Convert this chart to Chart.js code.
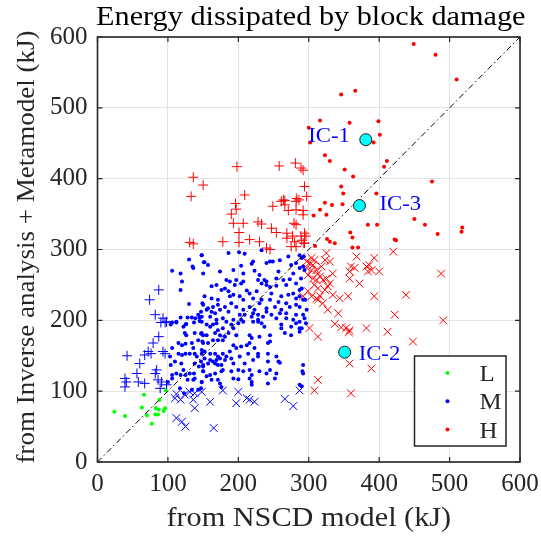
<!DOCTYPE html>
<html>
<head>
<meta charset="utf-8">
<script src="https://cdn.jsdelivr.net/npm/chart.js@4.4.0/dist/chart.umd.min.js"></script>
<style>
  html, body { margin: 0; padding: 0; background: #fff; }
  canvas { display: block; }
</style>
</head>
<body>
<canvas id="chart" width="541" height="537"></canvas>
<script>
// axis ticks (both axes)
const axisTicks = [0, 100, 200, 300, 400, 500, 600];

// L class (green dots)
const lowDots = [
  [66, 95], [88, 88], [24, 71], [39, 65], [63, 77], [83, 76], [87, 74], [96, 76], [94, 72],
  [70, 66], [82, 67], [86, 67], [77, 54], [97, 101]
];

// M class (blue dots)
const medDots = [
  [104, 194], [112, 197], [122, 191], [125, 194], [137, 197], [145, 199], [124, 182], [126, 179], [138, 182],
  [147, 181], [143, 172], [150, 179], [149, 170], [106, 161], [115, 168], [120, 165], [125, 167], [134, 168],
  [136, 161], [138, 153], [131, 153], [125, 153], [120, 151], [115, 153], [103, 149], [148, 153], [141, 149],
  [110, 142], [119, 139], [104, 137], [122, 130], [138, 139], [147, 142], [144, 135], [150, 135], [137, 125],
  [131, 125], [125, 123], [112, 125], [118, 123], [106, 123], [100, 113], [106, 118], [150, 128], [128, 116],
  [136, 116], [138, 118], [148, 113], [147, 104], [117, 104], [123, 97], [134, 102], [143, 102],
  [148, 198], [155, 194], [160, 191], [164, 194], [169, 196], [171, 186], [178, 189], [183, 198], [190, 194],
  [193, 189], [200, 196], [207, 198], [221, 198], [228, 198], [233, 196], [237, 191], [261, 194], [275, 191],
  [282, 196], [287, 189], [296, 196],
  [148, 182], [155, 179], [167, 182], [174, 179], [181, 177], [186, 182], [197, 179], [216, 179], [219, 175],
  [230, 177], [245, 179], [261, 189], [266, 182], [275, 179], [287, 184],
  [150, 168], [157, 168], [164, 172], [171, 172], [178, 172], [193, 165], [204, 163], [212, 165], [216, 168],
  [223, 161], [242, 168], [245, 170],
  [148, 158], [152, 156], [160, 153], [167, 153], [171, 149], [178, 153], [188, 156], [197, 161], [214, 153],
  [228, 153], [242, 153], [254, 149], [257, 142],
  [152, 146], [160, 144], [164, 142], [169, 144], [174, 146], [181, 144], [183, 149], [190, 146], [202, 149],
  [221, 144], [228, 149],
  [150, 137], [157, 139], [167, 139], [171, 137], [176, 137], [193, 139], [209, 139], [242, 142], [259, 140],
  [292, 137],
  [150, 128], [160, 123], [167, 125], [176, 128], [178, 130], [190, 128], [200, 130], [207, 128], [216, 130],
  [219, 123], [230, 128], [240, 125], [245, 130], [254, 125], [292, 125],
  [155, 121], [162, 116], [171, 116], [174, 111], [193, 118], [200, 117], [216, 118], [219, 113], [219, 109],
  [242, 111], [252, 118], [287, 109], [148, 113], [176, 106],
  [130, 286], [135, 276], [136, 274], [106, 270], [118, 266], [120, 255], [118, 243], [130, 223], [148, 292],
  [151, 282], [149, 224], [147, 212], [143, 208], [145, 204], [118, 204], [128, 204], [134, 204], [139, 203],
  [112, 198], [126, 195], [106, 197],
  [148, 292], [152, 282], [157, 278], [186, 295], [201, 296], [209, 294], [233, 299], [245, 283], [240, 281],
  [249, 283], [259, 285], [271, 290], [287, 292], [290, 288], [282, 281], [204, 277], [221, 283], [219, 280],
  [275, 278],
  [150, 266], [174, 269], [193, 271], [207, 266], [223, 270], [230, 264], [237, 257], [240, 255], [254, 259],
  [257, 269], [278, 266], [287, 274], [294, 271],
  [183, 257], [188, 255], [197, 257], [195, 250], [204, 252], [207, 255], [228, 257], [233, 252], [240, 250],
  [245, 247], [254, 249], [264, 257], [273, 258], [268, 250], [282, 252], [289, 259],
  [162, 248], [169, 250], [176, 243], [181, 245], [186, 241], [193, 236], [202, 234], [212, 242], [216, 238],
  [226, 241], [247, 238], [261, 234], [271, 236], [278, 238], [287, 243], [287, 234],
  [152, 234], [162, 231], [171, 229], [188, 234], [207, 229], [221, 231], [233, 229], [245, 229], [257, 226],
  [268, 224], [282, 231], [292, 229],
  [150, 222], [157, 217], [164, 219], [171, 222], [181, 219], [190, 224], [197, 219], [207, 215], [216, 219],
  [223, 215], [230, 224], [240, 217], [252, 219], [261, 215], [273, 219], [282, 222], [287, 219],
  [155, 215], [162, 212], [167, 210], [174, 215], [186, 212], [202, 208], [209, 208], [221, 210], [228, 208],
  [240, 212], [247, 208], [259, 210], [268, 210], [282, 208], [292, 208],
  [148, 205], [160, 205], [169, 201], [178, 203], [193, 201], [204, 201], [219, 205], [228, 201], [235, 205],
  [254, 203], [268, 203], [278, 201], [287, 198], [294, 203],
  [290, 189], [291, 128], [290, 107], [293, 290], [292, 276], [290, 245], [295, 229], [297, 215]
];

// M class, over-predicted (blue +)
const medPlus = [
  [42, 150], [87, 177], [90, 197], [96, 197], [79, 168], [72, 156], [76, 153], [67, 151], [93, 156],
  [96, 153], [60, 139], [56, 125], [84, 130], [82, 125], [39, 118], [41, 113], [39, 106], [58, 113],
  [67, 111], [86, 116], [91, 113], [89, 104], [98, 109], [87, 243], [74, 229], [82, 208], [93, 203], [98, 198]
];

// M class, under-predicted (blue x)
const medCross = [
  [112, 96], [118, 88], [124, 95], [131, 99], [138, 97], [136, 88], [138, 76], [148, 99], [110, 90],
  [112, 62], [120, 57], [125, 50], [160, 85], [178, 101], [197, 83], [200, 99], [212, 90], [216, 88],
  [223, 85], [266, 89], [278, 79], [287, 101], [165, 48]
];

// H class (red dots)
const highDots = [
  [449, 590], [480, 575], [510, 540], [346, 519], [366, 524], [316, 482], [358, 479], [399, 481], [300, 472],
  [401, 462], [392, 451], [302, 451], [323, 433], [330, 425], [411, 425], [407, 417], [351, 413], [363, 403],
  [475, 396], [346, 389], [349, 379], [396, 379], [323, 366], [333, 363], [348, 364], [316, 356], [307, 348],
  [325, 349], [384, 335], [397, 335], [359, 324], [362, 317], [326, 315], [330, 311], [337, 309], [309, 305],
  [362, 303], [370, 303], [422, 314], [424, 313], [450, 343], [465, 335], [483, 322], [518, 331], [517, 325]
];

// H class, under-predicted (red +)
const highPlus = [
  [198, 417], [258, 418], [281, 422], [289, 415], [292, 412], [136, 402], [150, 391], [133, 375], [196, 365],
  [209, 377], [264, 370], [266, 369], [283, 372], [286, 370], [294, 389], [297, 375], [131, 310], [136, 308],
  [197, 357], [190, 350], [193, 337], [207, 337], [228, 339], [233, 336], [247, 330], [254, 324], [249, 361],
  [261, 368], [266, 363], [271, 355], [282, 356], [282, 368], [292, 349], [279, 337], [282, 335], [269, 323],
  [277, 319], [269, 316], [280, 311], [275, 304], [282, 304], [289, 319], [296, 319], [294, 309], [178, 311],
  [201, 324], [201, 310], [216, 314], [230, 311], [240, 302], [245, 300], [292, 355], [294, 323], [290, 313],
  [293, 309]
];

// H class, over-predicted (red x)
const highCross = [
  [304, 288], [308, 285], [301, 281], [306, 278], [325, 295], [323, 285], [330, 283], [368, 290], [393, 288],
  [420, 297], [297, 274], [304, 271], [311, 271], [318, 276], [313, 266], [360, 276], [358, 269], [365, 274],
  [382, 276], [386, 278], [389, 271], [384, 269], [334, 266], [299, 264], [306, 259], [311, 257], [316, 262],
  [320, 257], [325, 259], [330, 252], [327, 248], [358, 259], [372, 252], [400, 269], [308, 250], [313, 245],
  [323, 243], [304, 234], [311, 231], [316, 234], [313, 229], [320, 224], [334, 236], [344, 231], [356, 234],
  [393, 234], [438, 236], [299, 241], [292, 234], [327, 215], [342, 210], [422, 208], [301, 189], [313, 177],
  [337, 195], [346, 190], [353, 189], [357, 183], [358, 186], [382, 189], [412, 184], [358, 139], [389, 132],
  [313, 116], [308, 101], [360, 97], [488, 266], [491, 200], [448, 170], [297, 283]
];

// highlighted cases
const icNames = ['IC-1', 'IC-2', 'IC-3'];
const icX = [381, 351, 372];
const icY = [455, 155, 362];

const legendLabels = ['L', 'M', 'H'];
const legendColors = ['#00ff00', '#0000ff', '#ff0000'];

const toPts = arr => arr.map(p => ({ x: p[0], y: p[1] }));
const SERIF = '"Liberation Serif", "Times New Roman", serif';
const INK = '#262626';

function dots(data, color) {
    return {
        data: toPts(data), pointStyle: 'circle', pointRadius: 2, pointHoverRadius: 2,
        backgroundColor: color, borderWidth: 0, order: 3
    };
}
function marks(data, color, style, r) {
    return {
        data: toPts(data), pointStyle: style, pointRadius: r, pointHoverRadius: r,
        borderColor: color, backgroundColor: color, borderWidth: 1, order: 4
    };
}

// serif text, stretched a bit (the original LaTeX font is wider than Times)
function stretchText(ctx, text, x, y, size, sx, align, color, angle) {
    ctx.save();
    ctx.translate(x, y);
    if (angle) ctx.rotate(angle);
    ctx.scale(sx, 1);
    ctx.font = size + 'px ' + SERIF;
    ctx.fillStyle = color;
    ctx.textAlign = align;
    ctx.textBaseline = 'alphabetic';
    ctx.fillText(text, 0, 0);
    ctx.restore();
}

const decor = {
    id: 'decor',
    afterDraw(chart) {
        const { ctx, chartArea: a, scales: { x, y } } = chart;

        // axes box with inward ticks
        ctx.save();
        ctx.strokeStyle = INK;
        ctx.lineWidth = 1.6;
        ctx.strokeRect(a.left, a.top, a.right - a.left, a.bottom - a.top);
        ctx.lineWidth = 1.2;
        ctx.beginPath();
        axisTicks.forEach(t => {
            const px = x.getPixelForValue(t), py = y.getPixelForValue(t);
            ctx.moveTo(px, a.bottom); ctx.lineTo(px, a.bottom - 5);
            ctx.moveTo(px, a.top); ctx.lineTo(px, a.top + 5);
            ctx.moveTo(a.left, py); ctx.lineTo(a.left + 5, py);
            ctx.moveTo(a.right, py); ctx.lineTo(a.right - 5, py);
        });
        ctx.stroke();
        ctx.restore();

        // IC labels
        const offs = { 'IC-1': [-16, 2, 'right'], 'IC-2': [14, 8, 'left'], 'IC-3': [20, 4, 'left'] };
        icNames.forEach((n, i) => {
            const px = x.getPixelForValue(icX[i]), py = y.getPixelForValue(icY[i]);
            const o = offs[n];
            stretchText(ctx, n, px + o[0], py + o[1], 21, 1.08, o[2], '#0000ff');
        });

        // legend
        const lx = 414.5, ly = 356, lw = 91.5, lh = 90;
        ctx.save();
        ctx.fillStyle = '#fff';
        ctx.fillRect(lx, ly, lw, lh);
        ctx.strokeStyle = INK;
        ctx.lineWidth = 1.5;
        ctx.strokeRect(lx, ly, lw, lh);
        legendLabels.forEach((lab, i) => {
            const cy = ly + 17 + i * 28.3;
            ctx.fillStyle = legendColors[i];
            ctx.beginPath();
            ctx.arc(lx + 33, cy, 2, 0, Math.PI * 2);
            ctx.fill();
            stretchText(ctx, lab, lx + 65, cy + 8, 23, 1.08, 'left', INK);
        });
        ctx.restore();

        // title and axis titles
        const cx = (a.left + a.right) / 2;
        stretchText(ctx, 'Energy dissipated by block damage', cx + 2, 25, 27, 1.12, 'center', '#000');
        stretchText(ctx, 'from NSCD model (kJ)', cx, 526, 27, 1.12, 'center', INK);
        stretchText(ctx, 'from Inverse analysis + Metamodel (kJ)', 34, 247, 25, 1.08, 'center', INK, -Math.PI / 2);
    }
};

const scaleOpts = (axis) => ({
    type: 'linear', min: 0, max: 600,
    afterBuildTicks: s => { s.ticks = axisTicks.map(v => ({ value: v })); },
    afterFit: s => {
        if (axis === 'x') s.height = 75; else s.width = 97.5;
        // keep the plot box fixed, ignore label overhang
        s.paddingLeft = 0; s.paddingRight = 0; s.paddingTop = 0; s.paddingBottom = 0;
    },
    grid: { color: '#e3e3e3', lineWidth: 1, drawTicks: false },
    border: { display: false },
    ticks: {
        color: INK, padding: axis === 'x' ? 7 : 10,
        font: { family: SERIF, size: 25 }
    }
});

new Chart(document.getElementById('chart'), {
    type: 'scatter',
    data: {
        datasets: [
            {
                type: 'line', data: [{ x: 0, y: 0 }, { x: 600, y: 600 }],
                borderColor: '#000', borderWidth: 1, borderDash: [6, 3, 1.5, 3],
                pointRadius: 0, order: 1
            },
            dots(lowDots, '#00ff00'),
            dots(medDots, '#0000ff'),
            dots(highDots, '#ff0000'),
            marks(medPlus, '#0000ff', 'cross', 5),
            marks(medCross, '#0000ff', 'crossRot', 5.5),
            marks(highPlus, '#ff0000', 'cross', 5),
            marks(highCross, '#ff0000', 'crossRot', 5.5),
            {
                data: icX.map((v, i) => ({ x: v, y: icY[i] })),
                pointStyle: 'circle', pointRadius: 6, pointHoverRadius: 6,
                backgroundColor: '#00ffff', borderColor: '#1a1a1a', borderWidth: 1, order: 0
            }
        ]
    },
    options: {
        responsive: false,
        animation: false,
        layout: { padding: { top: 37, right: 21, bottom: 0, left: 0 } },
        plugins: { legend: { display: false }, tooltip: { enabled: false }, title: { display: false } },
        scales: { x: scaleOpts('x'), y: scaleOpts('y') }
    },
    plugins: [decor]
});
</script>
</body>
</html>
